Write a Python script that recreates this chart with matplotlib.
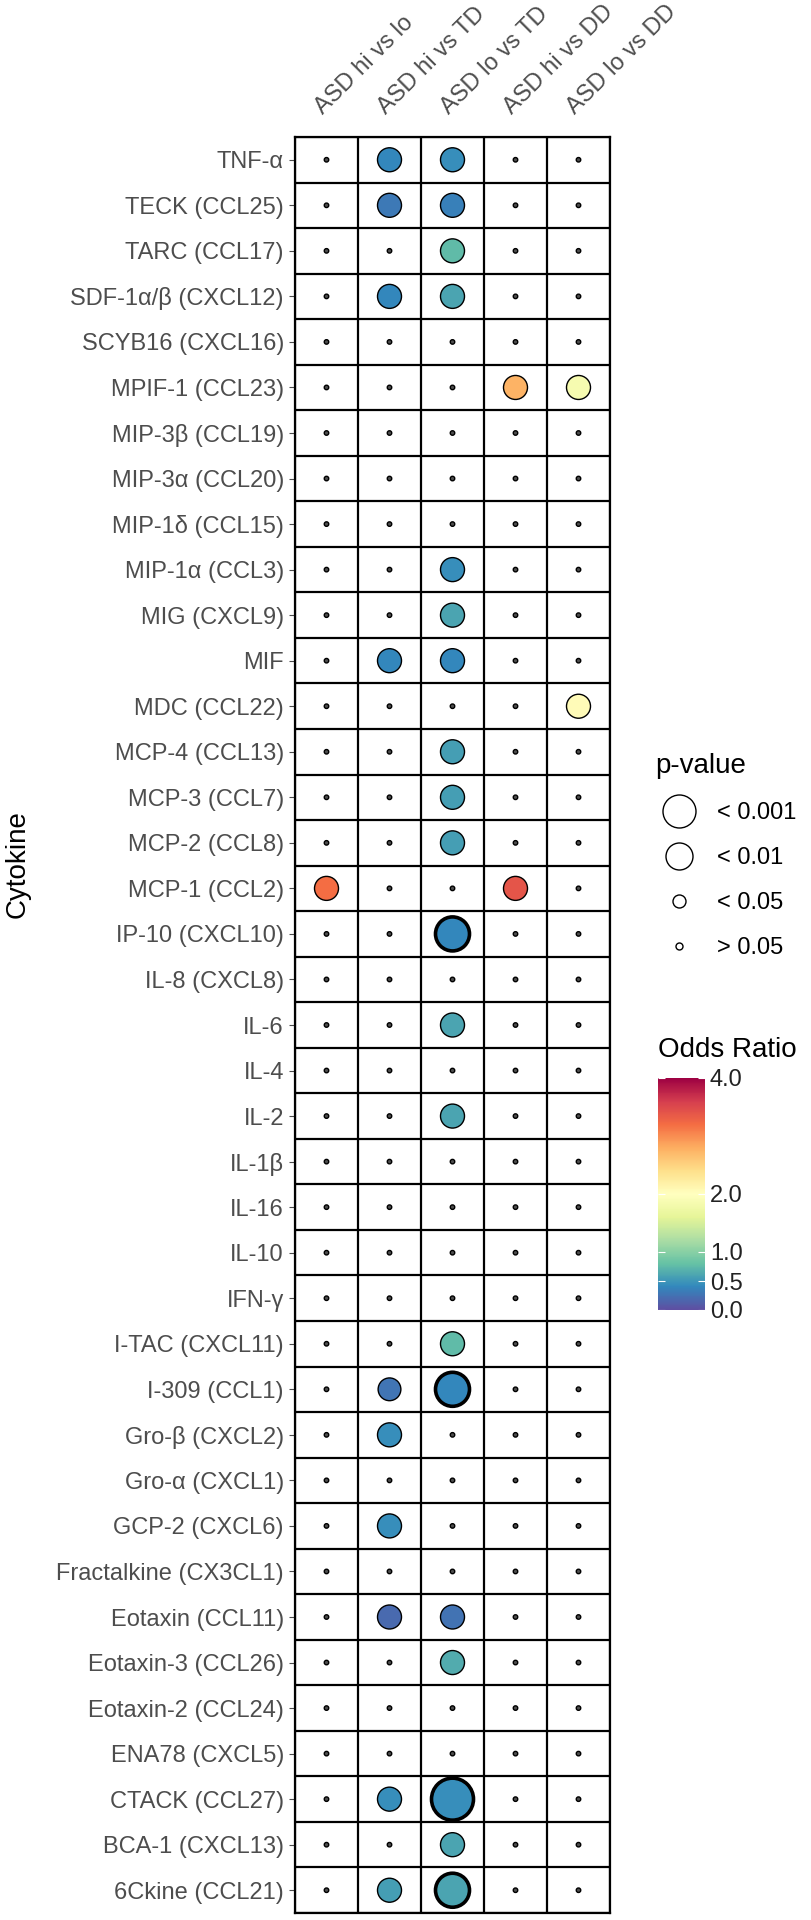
import numpy as np
import matplotlib
matplotlib.use('Agg')
import matplotlib.pyplot as plt
from matplotlib.lines import Line2D

plt.rcParams['font.family'] = ['Liberation Sans', 'DejaVu Sans']

# cytokines, top to bottom
cytokines = ['TNF-α', 'TECK (CCL25)', 'TARC (CCL17)', 'SDF-1α/β (CXCL12)', 'SCYB16 (CXCL16)',
             'MPIF-1 (CCL23)', 'MIP-3β (CCL19)', 'MIP-3α (CCL20)', 'MIP-1δ (CCL15)', 'MIP-1α (CCL3)',
             'MIG (CXCL9)', 'MIF', 'MDC (CCL22)', 'MCP-4 (CCL13)', 'MCP-3 (CCL7)',
             'MCP-2 (CCL8)', 'MCP-1 (CCL2)', 'IP-10 (CXCL10)', 'IL-8 (CXCL8)', 'IL-6',
             'IL-4', 'IL-2', 'IL-1β', 'IL-16', 'IL-10',
             'IFN-γ', 'I-TAC (CXCL11)', 'I-309 (CCL1)', 'Gro-β (CXCL2)', 'Gro-α (CXCL1)',
             'GCP-2 (CXCL6)', 'Fractalkine (CX3CL1)', 'Eotaxin (CCL11)', 'Eotaxin-3 (CCL26)', 'Eotaxin-2 (CCL24)',
             'ENA78 (CXCL5)', 'CTACK (CCL27)', 'BCA-1 (CXCL13)', '6Ckine (CCL21)']

comparisons = ['ASD hi vs lo', 'ASD hi vs TD', 'ASD lo vs TD', 'ASD hi vs DD', 'ASD lo vs DD']

# odds ratios per comparison (rows in cytokine order, 5 per group)
or_hi_lo = [1, 1, 1, 1, 1,   1, 1, 1, 1, 1,   1, 1, 1, 1, 1,   1, 3.2, 1, 1, 1,
            1, 1, 1, 1, 1,   1, 1, 1, 1, 1,   1, 1, 1, 1, 1,   1, 1, 1, 1]
or_hi_td = [0.4, 0.3, 1, 0.4, 1,   1, 1, 1, 1, 1,   1, 0.4, 1, 1, 1,   1, 1, 1, 1, 1,
            1, 1, 1, 1, 1,   1, 1, 0.28, 0.45, 1,   0.45, 1, 0.2, 1, 1,   1, 0.45, 1, 0.55]
or_lo_td = [0.45, 0.35, 0.75, 0.6, 1,   1, 1, 1, 1, 0.45,   0.6, 0.4, 1, 0.55, 0.55,   0.55, 1, 0.4, 1, 0.6,
            1, 0.6, 1, 1, 1,   1, 0.75, 0.4, 1, 1,   1, 1, 0.25, 0.65, 1,   1, 0.45, 0.6, 0.6]
or_hi_dd = [1, 1, 1, 1, 1,   2.75, 1, 1, 1, 1,   1, 1, 1, 1, 1,   1, 3.4, 1, 1, 1,
            1, 1, 1, 1, 1,   1, 1, 1, 1, 1,   1, 1, 1, 1, 1,   1, 1, 1, 1]
or_lo_dd = [1, 1, 1, 1, 1,   1.85, 1, 1, 1, 1,   1, 1, 2.05, 1, 1,   1, 1, 1, 1, 1,
            1, 1, 1, 1, 1,   1, 1, 1, 1, 1,   1, 1, 1, 1, 1,   1, 1, 1, 1]

# p-values per comparison (1 = not significant)
p_hi_lo = [1, 1, 1, 1, 1,   1, 1, 1, 1, 1,   1, 1, 1, 1, 1,   1, 0.01, 1, 1, 1,
           1, 1, 1, 1, 1,   1, 1, 1, 1, 1,   1, 1, 1, 1, 1,   1, 1, 1, 1]
p_hi_td = [0.01, 0.01, 1, 0.01, 1,   1, 1, 1, 1, 1,   1, 0.01, 1, 1, 1,   1, 1, 1, 1, 1,
           1, 1, 1, 1, 1,   1, 1, 0.012, 0.01, 1,   0.01, 1, 0.01, 1, 1,   1, 0.01, 1, 0.01]
p_lo_td = [0.01, 0.01, 0.01, 0.01, 1,   1, 1, 1, 1, 0.01,   0.01, 0.01, 1, 0.01, 0.01,   0.01, 1, 0.001, 1, 0.01,
           1, 0.01, 1, 1, 1,   1, 0.01, 0.001, 1, 1,   1, 1, 0.01, 0.01, 1,   1, 0.0001, 0.01, 0.001]
p_hi_dd = [1, 1, 1, 1, 1,   0.01, 1, 1, 1, 1,   1, 1, 1, 1, 1,   1, 0.01, 1, 1, 1,
           1, 1, 1, 1, 1,   1, 1, 1, 1, 1,   1, 1, 1, 1, 1,   1, 1, 1, 1]
p_lo_dd = [1, 1, 1, 1, 1,   0.01, 1, 1, 1, 1,   1, 1, 0.01, 1, 1,   1, 1, 1, 1, 1,
           1, 1, 1, 1, 1,   1, 1, 1, 1, 1,   1, 1, 1, 1, 1,   1, 1, 1, 1]

p_labels = ['< 0.001', '< 0.01', '< 0.05', '> 0.05']
cbar_ticks = [0.0, 0.5, 1.0, 2.0, 4.0]

or_all = np.array([or_hi_lo, or_hi_td, or_lo_td, or_hi_dd, or_lo_dd], dtype=float)
p_all = np.array([p_hi_lo, p_hi_td, p_lo_td, p_hi_dd, p_lo_dd], dtype=float)
ncol, nrow = or_all.shape
xx, yy = np.meshgrid(np.arange(ncol), np.arange(nrow), indexing='ij')

W, H = 811, 1920
fig = plt.figure(figsize=(W / 100, H / 100), dpi=100)
ax = fig.add_axes([295 / W, 1 - 1913 / H, 315 / W, 1776 / H])

# size scale: -log10(p) -> diameter in pixels
mlp = -np.log10(p_all)
diam = np.interp(mlp, [0, 1.3, 2, 3, 4], [4.5, 13, 24, 34, 42])
sizes = (diam * 0.72) ** 2
lws = np.where(p_all <= 0.001, 2.6, 1.0)
# tiny non-significant dots read as dark specks
face = plt.get_cmap('Spectral_r')(np.clip(or_all / 4, 0, 1))
face[p_all > 0.05] = (0.3, 0.3, 0.3, 1)

# cell borders
for b in np.arange(ncol + 1) - 0.5:
    ax.axvline(b, color='black', lw=1.6, zorder=1)
for b in np.arange(nrow + 1) - 0.5:
    ax.axhline(b, color='black', lw=1.6, zorder=1)

sc = ax.scatter(xx.ravel(), yy.ravel(), s=sizes.ravel(), c=face.reshape(-1, 4),
                edgecolors='black', linewidths=lws.ravel(), zorder=3)

ax.set_xlim(-0.5, ncol - 0.5)
ax.set_ylim(nrow - 0.5, -0.5)
ax.set_xticks(range(ncol))
ax.set_xticklabels(comparisons, rotation=45, ha='left', va='bottom',
                   rotation_mode='anchor', fontsize=17, color='#4d4d4d')
ax.xaxis.tick_top()
ax.tick_params(axis='x', length=0, pad=13)
ax.set_yticks(range(nrow))
ax.set_yticklabels(cytokines, fontsize=17, color='#4d4d4d')
ax.tick_params(axis='y', length=4, color='#4d4d4d', pad=4)
for s in ax.spines.values():
    s.set_linewidth(1.6)

fig.text(18 / W, 1 - 864 / H, 'Cytokine', rotation=90, fontsize=20,
         ha='center', va='center')

# p-value legend
leg_d = [33, 27, 13, 7]
handles = [Line2D([], [], marker='o', ls='none', markersize=d * 0.72,
                  markerfacecolor='white', markeredgecolor='black', markeredgewidth=1.0)
           for d in leg_d]
leg = fig.legend(handles, p_labels, loc='upper left', bbox_to_anchor=(646 / W, 1 - 744 / H),
                 title='p-value', title_fontsize=20, fontsize=17, frameon=False,
                 labelspacing=0.97, handletextpad=0.6, borderaxespad=0)
leg._legend_box.align = 'left'

# colorbar
fig.text(658 / W, 1 - 1050 / H, 'Odds Ratio', fontsize=20, ha='left', va='center')
cax = fig.add_axes([658 / W, 1 - 1310 / H, 47 / W, 232 / H])
cb = fig.colorbar(plt.cm.ScalarMappable(norm=plt.Normalize(0, 4), cmap='Spectral_r'),
                  cax=cax, ticks=cbar_ticks)
cb.outline.set_visible(False)
cb.set_ticklabels(['%.1f' % t for t in cbar_ticks])
cax.tick_params(labelsize=17, length=5, direction='in', color='white', labelcolor='#222222')
cax.yaxis.set_ticks_position('both')

fig.savefig('out.png', dpi=100)
